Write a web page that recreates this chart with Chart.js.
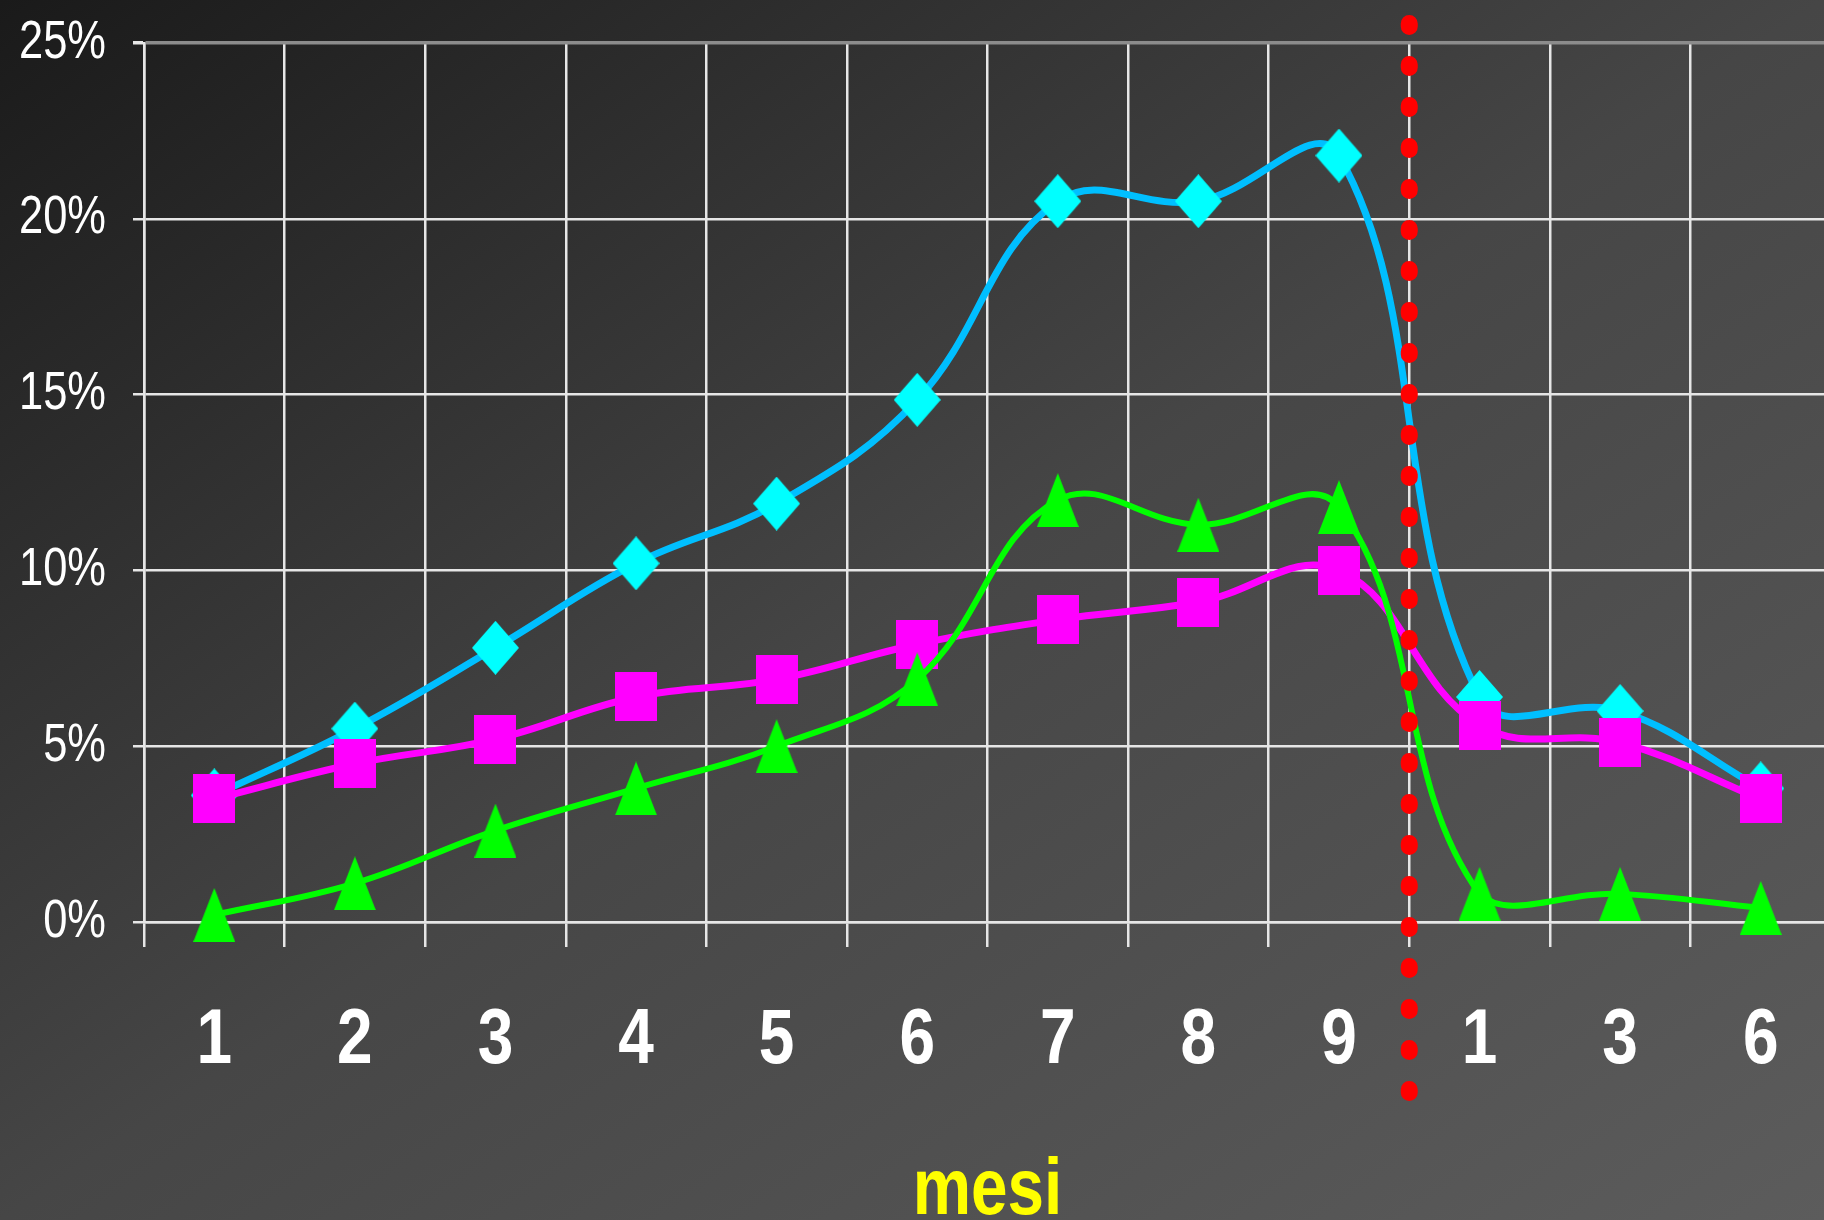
<!DOCTYPE html>
<html>
<head>
<meta charset="utf-8">
<script src="https://cdn.jsdelivr.net/npm/chart.js@4.4.1/dist/chart.umd.min.js"></script>
<style>
  html, body {
    margin: 0; padding: 0; overflow: hidden;
    width: 1824px; height: 1220px;
    background: linear-gradient(to bottom right, #1a1a1a 0%, #464646 50%, #5c5c5c 100%);
  }
  #wrap { position: absolute; left: 0; top: 0; }
</style>
</head>
<body>
<div id="wrap"><canvas id="chart" width="1831" height="1240"></canvas></div>
<script>
// months: 1..9 during, then 1, 3, 6 after
const months = ['1', '2', '3', '4', '5', '6', '7', '8', '9', '1', '3', '6'];
const followUpStart = 9; // index of the first month after the red line

const serieCyan    = [3.6, 5.5, 7.8, 10.2, 11.9, 14.85, 20.5, 20.5, 21.8, 6.4, 6.0, 3.8];
const serieMagenta = [3.5, 4.5, 5.2, 6.4, 6.9, 7.9, 8.6, 9.1, 10.0, 5.6, 5.1, 3.5];
const serieGreen   = [0.2, 1.1, 2.6, 3.8, 5.0, 6.9, 12.0, 11.3, 11.8, 0.8, 0.8, 0.4];

const yTicks = [0, 5, 10, 15, 20, 25];

const FONT = '"Liberation Sans", Arial, sans-serif';
const NARROW = 0.82; // the original uses a narrow font, squeeze text horizontally

// excel-like markers, a bit taller than wide
function marker(shape, w, h, color) {
  const c = document.createElement('canvas');
  c.width = w; c.height = h;
  const g = c.getContext('2d');
  g.fillStyle = color;
  g.beginPath();
  if (shape === 'diamond') {
    g.moveTo(w / 2, 0); g.lineTo(w, h / 2); g.lineTo(w / 2, h); g.lineTo(0, h / 2);
  } else if (shape === 'triangle') {
    g.moveTo(w / 2, 0); g.lineTo(w, h); g.lineTo(0, h);
  } else {
    g.rect(0, 0, w, h);
  }
  g.closePath();
  g.fill();
  return c;
}

// draw tick labels and title of a scale with a narrower text
function narrowText(scale) {
  scale.drawLabels = function () {
    const ctx = this.ctx;
    for (const item of this.getLabelItems()) {
      const o = item.options;
      ctx.save();
      ctx.translate(o.translation[0], o.translation[1]);
      ctx.scale(NARROW, 1);
      ctx.font = item.font.string;
      ctx.fillStyle = o.color;
      ctx.textAlign = o.textAlign;
      ctx.textBaseline = o.textBaseline;
      ctx.fillText(item.label, 0, item.textOffset);
      ctx.restore();
    }
  };
  const baseTitle = Object.getPrototypeOf(scale).drawTitle;
  scale.drawTitle = function () {
    const ctx = this.ctx;
    const cx = (this.left + this.right) / 2;
    ctx.save();
    ctx.translate(cx, 0);
    ctx.scale(NARROW, 1);
    ctx.translate(-cx, 0);
    baseTitle.call(this);
    ctx.restore();
  };
}

const narrowPlugin = {
  id: 'narrowText',
  afterLayout(chart) {
    narrowText(chart.scales.x);
    narrowText(chart.scales.y);
  }
};

const dividerLine = {
  id: 'dividerLine',
  afterDatasetsDraw(chart) {
    const { ctx, chartArea, scales: { x } } = chart;
    const px = x.getPixelForValue(followUpStart - 0.5);
    ctx.save();
    ctx.strokeStyle = '#ff0000';
    ctx.lineWidth = 17;
    ctx.lineCap = 'round';
    ctx.setLineDash([3, 38]);
    ctx.beginPath();
    ctx.moveTo(px, chartArea.top - 19.5);
    ctx.lineTo(px, chartArea.bottom + 175);
    ctx.stroke();
    ctx.restore();
  }
};

function noPadding(s) {
  s.paddingTop = 0; s.paddingBottom = 0;
  s.paddingLeft = 0; s.paddingRight = 0;
}

new Chart(document.getElementById('chart'), {
  type: 'line',
  data: {
    labels: months,
    datasets: [
      {
        label: 'Serie 1',
        data: serieCyan,
        borderColor: '#00bfff',
        borderWidth: 7,
        pointStyle: marker('diamond', 47, 54, '#00ffff'),
        pointRadius: 20,
        tension: 0.4,
        order: 3
      },
      {
        label: 'Serie 2',
        data: serieMagenta,
        borderColor: '#ff00ff',
        borderWidth: 7,
        pointStyle: marker('square', 42, 49, '#ff00ff'),
        pointRadius: 20,
        tension: 0.4,
        order: 2
      },
      {
        label: 'Serie 3',
        data: serieGreen,
        borderColor: '#00ff00',
        borderWidth: 6,
        pointStyle: marker('triangle', 42, 54, '#00ff00'),
        pointRadius: 20,
        tension: 0.4,
        clip: false,
        order: 1
      }
    ]
  },
  options: {
    responsive: false,
    animation: false,
    layout: { autoPadding: false, padding: { left: 18, top: 43, right: 0, bottom: 0 } },
    plugins: {
      legend: { display: false },
      tooltip: { enabled: false }
    },
    scales: {
      x: {
        offset: true,
        grid: {
          offset: true,
          color: '#e6e6e6',
          lineWidth: 2.5,
          tickLength: 25
        },
        border: { color: '#e6e6e6', width: 2.5 },
        ticks: {
          color: '#ffffff',
          font: { family: FONT, size: 78, weight: 'bold' },
          padding: 48,
          maxRotation: 0,
          autoSkip: false
        },
        title: {
          display: true,
          text: 'mesi',
          color: '#ffff00',
          font: { family: FONT, size: 80, weight: 'bold' },
          padding: { top: 0, bottom: 0 }
        },
        afterFit: s => { s.height = 318; noPadding(s); }
      },
      y: {
        min: 0,
        max: 25,
        afterBuildTicks: s => { s.ticks = yTicks.map(v => ({ value: v })); },
        grid: {
          color: c => (c.tick && c.tick.value === 25) ? '#8c8c8c' : '#e6e6e6',
          lineWidth: c => (c.tick && c.tick.value === 25) ? 3.5 : 2.5,
          tickColor: '#e6e6e6',
          tickLength: 11
        },
        border: { color: '#e6e6e6', width: 2.5 },
        ticks: {
          color: '#ffffff',
          font: { family: FONT, size: 53 },
          padding: 27,
          callback: v => v + '%'
        },
        afterFit: s => { s.width = 126; noPadding(s); }
      }
    }
  },
  plugins: [dividerLine, narrowPlugin]
});
</script>
</body>
</html>
